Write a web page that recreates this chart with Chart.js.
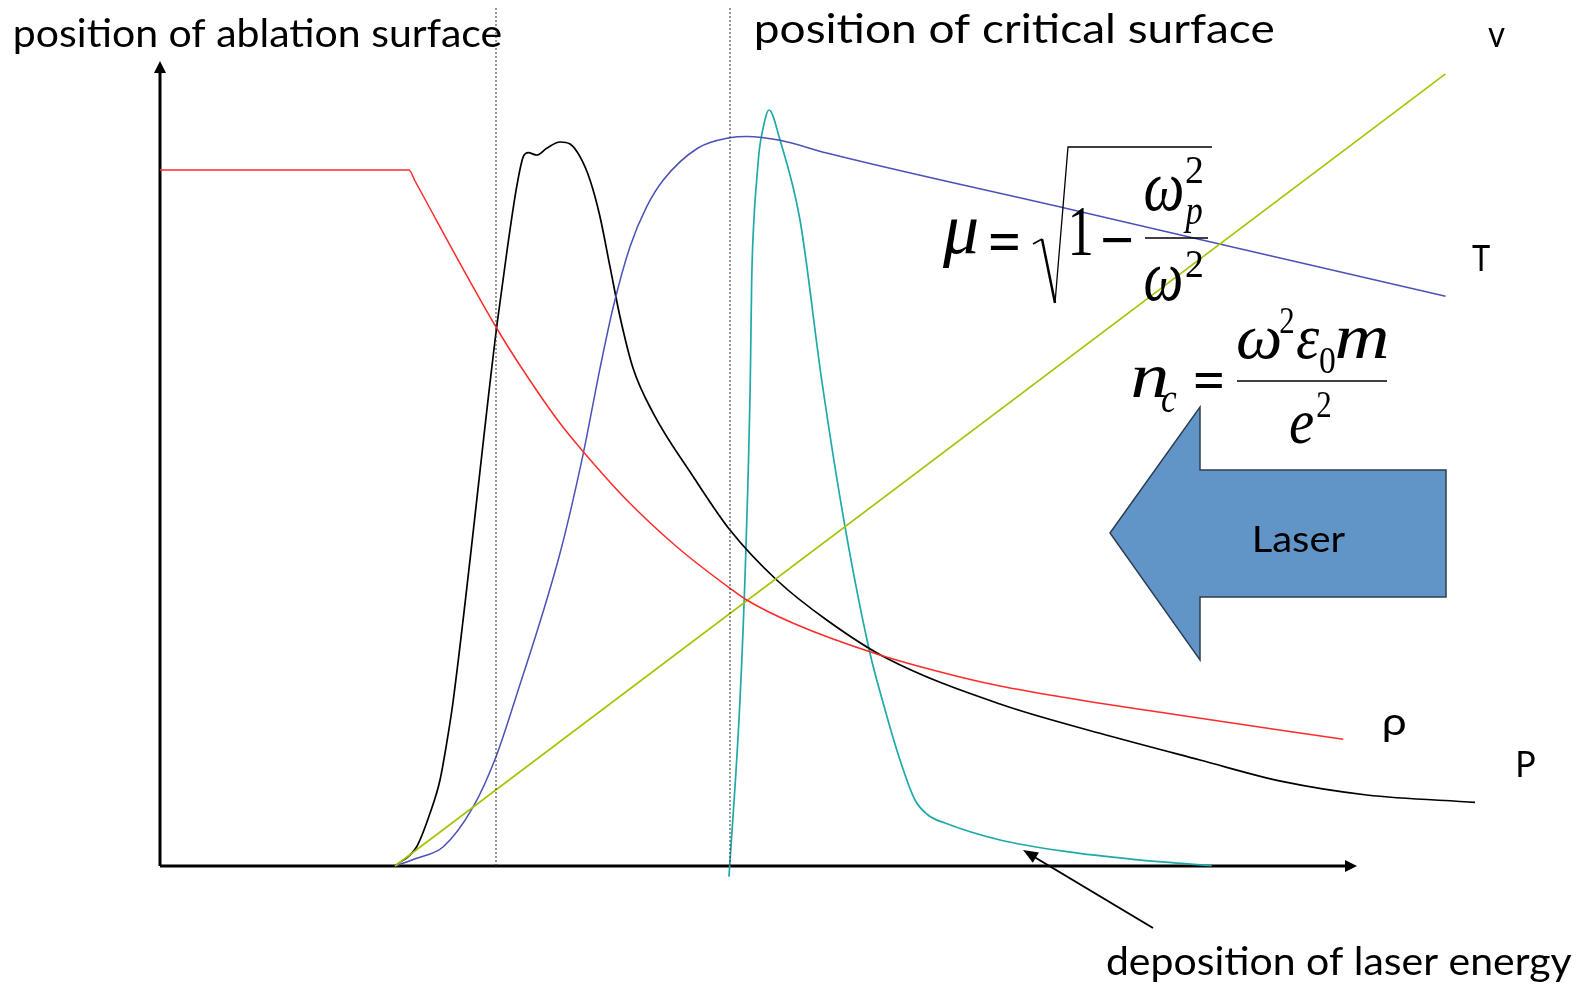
<!DOCTYPE html>
<html>
<head>
<meta charset="utf-8">
<script src="https://cdn.jsdelivr.net/npm/chart.js@4/dist/chart.umd.min.js"></script>
<style>
  html, body { margin: 0; padding: 0; background: #ffffff; }
  #wrap { width: 1585px; height: 987px; }
</style>
</head>
<body>
<div id="wrap"><canvas id="c" width="1585" height="987"></canvas></div>
<script>
// ---- data (arbitrary position / magnitude units) ----
const densityPts = [[0,696],[249,696],[255,685],[336,539],[361.7,498],[400,442.7],[423.3,414.3],[466.7,366],[516.7,319.3],[570,277.7],[586.7,266],[633.3,242.7],[716.7,212],[800,189],[840,180],[900,169.3],[1006.7,152.7],[1183.3,126.7]];
const pressurePts = [[235,0],[256.7,19.3],[270,52.7],[280,86],[288.3,132.7],[293.3,166],[331.7,497.7],[336.7,539.3],[346.7,613],[356.7,679.3],[363.3,709.3],[368.3,713.3],[376.7,711],[386.7,717.7],[400,724],[410,722],[420,709.3],[430,686],[440,649.3],[450,599.3],[460,549.3],[473,498],[493.3,452.7],[533.3,389.3],[570,336],[616.7,286],[666.7,246],[726.7,207.7],[840,162],[940,132.7],[1040,106],[1123.3,84.3],[1206.7,71],[1315,63.7]];
const temperaturePts = [[235,0],[256.7,7.7],[283.3,19.3],[313.3,59.3],[336,109.3],[355,166],[400,312.7],[423.3,412.7],[440,497.7],[453.3,559.3],[470,619.3],[486.7,659.3],[503.3,686],[538,718],[570,728.3],[586.7,729.5],[620,725.7],[666.7,713],[906.7,657.5],[1040,626.5],[1285.5,569.7]];
const velocityPts = [[235,0],[1285.5,792.2]];
const depositionPts = [[569,-10.7],[580,166],[586,319.3],[590.3,486],[591.7,586],[594.3,653],[596.7,686],[599.3,716],[602.7,736],[609,756],[620,726],[640,646],[661.7,486],[685,339.3],[710,212.7],[722.3,166],[740,106],[755,66],[768,51],[785,43],[840,26],[906.7,14.3],[973.3,6.7],[1051.7,0.3]];
const ablationX = 336;
const criticalX = 570;
const markerTop = 858;
const xAxisEnd = 1197;
const yAxisEnd = 805;

const toXY = a => a.map(p => ({x: p[0], y: p[1]}));

function lineSet(pts, color, width) {
  return {
    data: toXY(pts), borderColor: color, borderWidth: width, fill: false,
    pointRadius: 0, cubicInterpolationMode: 'monotone', clip: false
  };
}
function markerSet(x) {
  return {
    data: [{x: x, y: 0}, {x: x, y: markerTop}], borderColor: '#333', borderWidth: 1,
    borderDash: [2, 2], pointRadius: 0, tension: 0, fill: false, clip: false
  };
}

let X, Y;
function txt(ctx, s, xd, yd, font, o) {
  o = o || {};
  const x = X(xd), y = Y(yd);
  ctx.save();
  ctx.font = font;
  ctx.fillStyle = o.color || '#000';
  ctx.textAlign = 'left';
  ctx.textBaseline = 'alphabetic';
  const m = ctx.measureText(s);
  const inkW = m.actualBoundingBoxLeft + m.actualBoundingBoxRight;
  const sx = o.w ? o.w / inkW : 1;
  let by = y;
  if (o.cy) by = y + (m.actualBoundingBoxAscent - m.actualBoundingBoxDescent) / 2;
  ctx.translate(x, by);
  ctx.scale(sx, 1);
  ctx.fillText(s, m.actualBoundingBoxLeft, 0);
  ctx.restore();
}
function seg(ctx, pts, w, color) {
  ctx.save();
  ctx.beginPath();
  pts.forEach((p, i) => { const px = X(p[0]), py = Y(p[1]); i ? ctx.lineTo(px, py) : ctx.moveTo(px, py); });
  ctx.lineWidth = w; ctx.strokeStyle = color || '#000'; ctx.lineJoin = 'miter';
  ctx.stroke();
  ctx.restore();
}
function arrowHead(ctx, from, to, len, half) {
  const x1 = X(from[0]), y1 = Y(from[1]), x2 = X(to[0]), y2 = Y(to[1]);
  const a = Math.atan2(y2 - y1, x2 - x1);
  ctx.save();
  ctx.beginPath();
  ctx.moveTo(x2, y2);
  ctx.lineTo(x2 - len * Math.cos(a) + half * Math.sin(a), y2 - len * Math.sin(a) - half * Math.cos(a));
  ctx.lineTo(x2 - len * Math.cos(a) - half * Math.sin(a), y2 - len * Math.sin(a) + half * Math.cos(a));
  ctx.closePath();
  ctx.fillStyle = '#000';
  ctx.fill();
  ctx.restore();
}

const SANS = 'Lato, "Open Sans", sans-serif';
const SERIF = '"Liberation Serif", "DejaVu Serif", serif';

const annot = {
  id: 'annot',
  beforeDatasetsDraw(chart) {
    const ctx = chart.ctx;
    X = v => chart.scales.x.getPixelForValue(v);
    Y = v => chart.scales.y.getPixelForValue(v);
    // axes with arrowheads
    seg(ctx, [[0, 0], [xAxisEnd - 10, 0]], 3);
    arrowHead(ctx, [0, 0], [xAxisEnd, 0], 12, 6);
    seg(ctx, [[0, 0], [0, yAxisEnd - 10]], 3);
    arrowHead(ctx, [0, 0], [0, yAxisEnd], 12, 6);
  },
  afterDatasetsDraw(chart) {
    const ctx = chart.ctx;
    X = v => chart.scales.x.getPixelForValue(v);
    Y = v => chart.scales.y.getPixelForValue(v);

    // labels
    txt(ctx, 'position of ablation surface', -145, 819, '38px ' + SANS, {w: 486});
    txt(ctx, 'position of critical surface', 596, 823, '41px ' + SANS, {w: 518});
    txt(ctx, 'v', 1328, 819, '37px ' + SANS, {w: 17});
    txt(ctx, 'T', 1312, 595, '36px ' + SANS, {w: 18});
    txt(ctx, 'ρ', 1224, 131, '38px ' + SANS, {w: 21});
    txt(ctx, 'P', 1358, 89, '36px ' + SANS, {w: 17});
    txt(ctx, 'deposition of laser energy', 947, -109, '38px ' + SANS, {w: 465});

    // annotation arrow
    seg(ctx, [[993, -62], [871, 11]], 2);
    arrowHead(ctx, [993, -62], [863, 16], 15, 6);

    // laser arrow
    ctx.save();
    ctx.beginPath();
    [[950, 333], [1040, 459], [1040, 396], [1286, 396], [1286, 269], [1040, 269], [1040, 206]].forEach((p, i) => {
      i ? ctx.lineTo(X(p[0]), Y(p[1])) : ctx.moveTo(X(p[0]), Y(p[1]));
    });
    ctx.closePath();
    ctx.fillStyle = '#6195c8';
    ctx.fill();
    ctx.lineWidth = 1.5;
    ctx.strokeStyle = '#2c3e52';
    ctx.stroke();
    ctx.restore();
    txt(ctx, 'Laser', 1095, 314, '36px ' + SANS, {w: 90});

    // formula 1: mu = sqrt(1 - wp^2/w^2)
    const I72 = 'italic 72px ' + SERIF, I40 = 'italic 40px ' + SERIF;
    txt(ctx, 'μ', 782, 613, I72, {w: 35});
    txt(ctx, '=', 830, 624, 'bold 60px ' + SERIF, {w: 28, cy: true});
    seg(ctx, [[873, 622], [882, 627]], 1.5);
    seg(ctx, [[882, 627], [895, 563]], 2.5);
    seg(ctx, [[895, 563], [908, 719], [1052, 719]], 1.3);
    txt(ctx, '1', 912, 611, '72px ' + SERIF, {w: 19});
    txt(ctx, '−', 943, 626, 'bold 60px ' + SERIF, {w: 29, cy: true});
    seg(ctx, [[985, 628], [1048, 628]], 1.3);
    txt(ctx, 'ω', 985, 656, I72, {w: 37});
    txt(ctx, '2', 1026, 683, '40px ' + SERIF, {w: 16});
    txt(ctx, 'p', 1023, 642, I40, {w: 19});
    txt(ctx, 'ω', 985, 566, I72, {w: 36});
    txt(ctx, '2', 1026, 589, '40px ' + SERIF, {w: 16});

    // formula 2: n_c = w^2 eps0 m / e^2
    const I64 = 'italic 64px ' + SERIF;
    txt(ctx, 'n', 973, 469, I64, {w: 34});
    txt(ctx, 'c', 1002, 454, I40, {w: 15});
    txt(ctx, '=', 1035, 485, 'bold 56px ' + SERIF, {w: 27, cy: true});
    seg(ctx, [[1077, 485], [1227, 485]], 1.3);
    txt(ctx, 'ω', 1078, 508, I64, {w: 42});
    txt(ctx, '2', 1120, 533, '38px ' + SERIF, {w: 13});
    txt(ctx, 'ε', 1137, 508, I64, {w: 23});
    txt(ctx, '0', 1160, 493, '38px ' + SERIF, {w: 15});
    txt(ctx, 'm', 1177, 508, I64, {w: 50});
    txt(ctx, 'e', 1130, 423, I64, {w: 23});
    txt(ctx, '2', 1157, 449, '38px ' + SERIF, {w: 13});
  }
};

new Chart(document.getElementById('c'), {
  type: 'line',
  data: {
    datasets: [
      markerSet(ablationX),
      markerSet(criticalX),
      lineSet(densityPts, '#ff2b2b', 1.5),
      lineSet(velocityPts, '#a4c400', 1.6),
      lineSet(temperaturePts, '#4a52b6', 1.5),
      lineSet(pressurePts, '#000000', 1.7),
      lineSet(depositionPts, '#1fa9a9', 1.7)
    ]
  },
  options: {
    responsive: false,
    animation: false,
    devicePixelRatio: 1,
    layout: { padding: { left: 160, right: 85, top: 6, bottom: 101 } },
    scales: {
      x: { type: 'linear', min: 0, max: 1340, display: false },
      y: { type: 'linear', min: -20, max: 860, display: false }
    },
    plugins: { legend: { display: false }, tooltip: { enabled: false } },
    elements: { point: { radius: 0 } }
  },
  plugins: [annot]
});
</script>
</body>
</html>
